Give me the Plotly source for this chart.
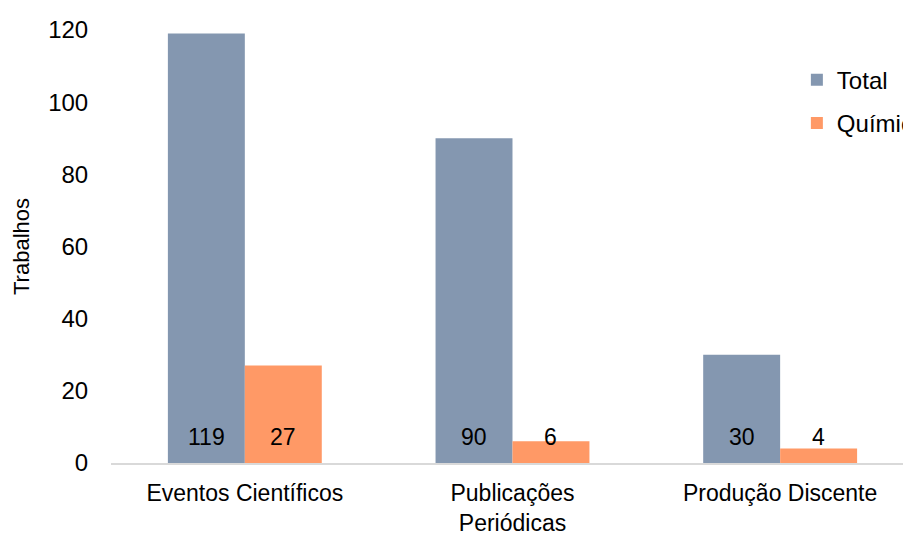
import plotly.graph_objects as go

categories = ["Eventos Científicos", "Publicações<br>Periódicas", "Produção Discente"]
total = [119, 90, 30]
quimica = [27, 6, 4]
series_names = ["Total", "Química"]
y_ticks = [0, 20, 40, 60, 80, 100, 120]

BLUE = "#8497B0"
ORANGE = "#FF9966"
FONT = "Liberation Sans, Arial, sans-serif"

fig = go.Figure()
fig.add_trace(go.Bar(name=series_names[0], x=categories, y=total, legendgroup="a",
                     marker=dict(color=BLUE, line=dict(width=0))))
fig.add_trace(go.Bar(name=series_names[1], x=categories, y=quimica, legendgroup="b",
                     marker=dict(color=ORANGE, line=dict(width=0))))

# value labels sit near the base of each bar
for i, cat in enumerate(categories):
    for vals, shift in ((total, -38.5), (quimica, 38.5)):
        fig.add_annotation(x=cat, y=7.2, text=str(vals[i]), showarrow=False,
                           xshift=shift, yanchor="middle",
                           font=dict(size=23, color="#000000", family=FONT))

fig.update_layout(
    width=903, height=535,
    margin=dict(l=111, r=0, t=30, b=72, autoexpand=False),
    paper_bgcolor="white", plot_bgcolor="white",
    barmode="group", bargap=0.425, bargroupgap=0,
    font=dict(family=FONT, size=24, color="#000000"),
    showlegend=True,
    legend=dict(x=0.866, y=0.936, xanchor="left", yanchor="top",
                font=dict(size=24, family=FONT), traceorder="grouped",
                tracegroupgap=9, bgcolor="rgba(0,0,0,0)", itemwidth=30),
    xaxis=dict(range=[-0.5, 2.459], showgrid=False, showline=True,
               linecolor="#D9D9D9", linewidth=2, ticks="",
               ticklabelstandoff=8,
               tickfont=dict(size=23, family=FONT)),
    yaxis=dict(range=[0, 120], tickvals=y_ticks, showgrid=False,
               zeroline=False, showline=False, ticks="outside",
               ticklen=17, tickcolor="rgba(0,0,0,0)",
               tickfont=dict(size=24, family=FONT),
               title=dict(text="Trabalhos", font=dict(size=22, family=FONT),
                          standoff=12)),
)

fig.write_html("out.html")
